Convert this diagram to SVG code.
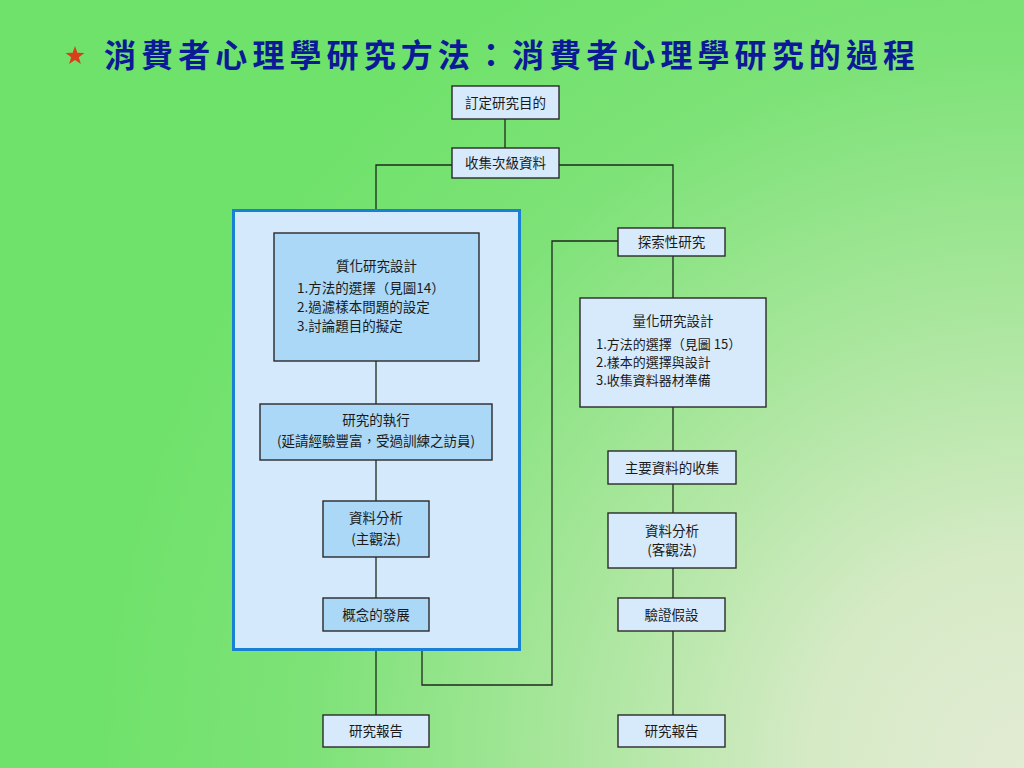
<svg xmlns="http://www.w3.org/2000/svg" width="1024" height="768" viewBox="0 0 1024 768">
<defs>
<radialGradient id="bg" gradientUnits="userSpaceOnUse" cx="1024" cy="768" r="950">
<stop offset="0" stop-color="#e2ebd3"/>
<stop offset="0.22" stop-color="#d6eac6"/>
<stop offset="0.5" stop-color="#a6e69a"/>
<stop offset="0.75" stop-color="#7ee278"/>
<stop offset="1" stop-color="#6ee26a"/>
</radialGradient>
<style>
.box{fill:#d6eafc;stroke:#2a2a2a;stroke-width:1.4}
.dbox{fill:#aad8f6;stroke:#2a2a2a;stroke-width:1.4}
.t{font-family:"Noto Sans CJK TC","Noto Sans CJK SC",sans-serif;font-size:13.5px;fill:#1a1a1a}
.s{font-size:13px}
.c{text-anchor:middle}
.ln{fill:none;stroke:#1e2a1e;stroke-width:1.3}
</style>
</defs>
<rect width="1024" height="768" fill="url(#bg)"/>
<g id="title">
<polygon points="75,46 77.4,52.8 84.5,53 78.8,57.3 80.9,64.1 75,60 69.1,64.1 71.2,57.3 65.5,53 72.6,52.8" fill="#d8401a"/>
<text x="104" y="67" textLength="811" lengthAdjust="spacing" style="font-family:'Noto Sans CJK TC','Noto Sans CJK SC',sans-serif;font-size:32px;font-weight:bold;fill:#0c1a98">消費者心理學研究方法：消費者心理學研究的過程</text>
</g>
<g id="qual-frame">
<rect x="233.5" y="210.5" width="286" height="439" fill="#d4e9fb" stroke="#1a80d4" stroke-width="3"/>
</g>
<g id="connectors">
<path class="ln" d="M505,119 V148"/>
<path class="ln" d="M452,165 H376 V209"/>
<path class="ln" d="M559,165 H673 V228"/>
<path class="ln" d="M376,361 V404"/>
<path class="ln" d="M376,460 V501"/>
<path class="ln" d="M376,557 V598"/>
<path class="ln" d="M376,651 V715"/>
<path class="ln" d="M422,651 V685 H552 V241 H618"/>
<path class="ln" d="M673,256 V298"/>
<path class="ln" d="M673,407 V451"/>
<path class="ln" d="M673,484 V513"/>
<path class="ln" d="M673,568 V598"/>
<path class="ln" d="M673,631 V715"/>
</g>
<g id="n-purpose">
<rect class="box" x="452" y="86" width="107" height="33"/>
<text class="t c" x="505.5" y="107.5">訂定研究目的</text>
</g>
<g id="n-secondary">
<rect class="box" x="452" y="148" width="107" height="30"/>
<text class="t c" x="505.5" y="168">收集次級資料</text>
</g>
<g id="n-qual-design">
<rect class="dbox" x="274" y="233" width="205" height="128"/>
<text class="t c" x="376.5" y="271">質化研究設計</text>
<text class="t" x="297" y="293">1.方法的選擇（見圖14）</text>
<text class="t" x="297" y="312">2.過濾樣本問題的設定</text>
<text class="t" x="297" y="331">3.討論題目的擬定</text>
</g>
<g id="n-execute">
<rect class="dbox" x="260" y="404" width="232" height="56"/>
<text class="t c" x="376" y="425">研究的執行</text>
<text class="t c" x="376" y="446">(延請經驗豐富，受過訓練之訪員)</text>
</g>
<g id="n-qual-analysis">
<rect class="dbox" x="323" y="501" width="106" height="56"/>
<text class="t c" x="376" y="523">資料分析</text>
<text class="t c" x="376" y="544">(主觀法)</text>
</g>
<g id="n-concept">
<rect class="dbox" x="323" y="598" width="106" height="33"/>
<text class="t c" x="376" y="619.5">概念的發展</text>
</g>
<g id="n-report-left">
<rect class="box" x="323" y="715" width="106" height="32"/>
<text class="t c" x="376" y="736">研究報告</text>
</g>
<g id="n-exploratory">
<rect class="box" x="618" y="228" width="107" height="28"/>
<text class="t c" x="671.5" y="247">探索性研究</text>
</g>
<g id="n-quant-design">
<rect class="box" x="580" y="298" width="186" height="109"/>
<text class="t c" x="673" y="326">量化研究設計</text>
<text class="t s" x="596" y="349">1.方法的選擇（見圖 15）</text>
<text class="t s" x="596" y="367">2.樣本的選擇與設計</text>
<text class="t s" x="596" y="385">3.收集資料器材準備</text>
</g>
<g id="n-primary">
<rect class="box" x="608" y="451" width="128" height="33"/>
<text class="t c" x="672" y="472.5">主要資料的收集</text>
</g>
<g id="n-quant-analysis">
<rect class="box" x="608" y="513" width="128" height="55"/>
<text class="t c" x="672" y="536">資料分析</text>
<text class="t c" x="672" y="555">(客觀法)</text>
</g>
<g id="n-hypothesis">
<rect class="box" x="618" y="598" width="107" height="33"/>
<text class="t c" x="671.5" y="619.5">驗證假設</text>
</g>
<g id="n-report-right">
<rect class="box" x="618" y="715" width="107" height="32"/>
<text class="t c" x="671.5" y="736">研究報告</text>
</g>
</svg>
